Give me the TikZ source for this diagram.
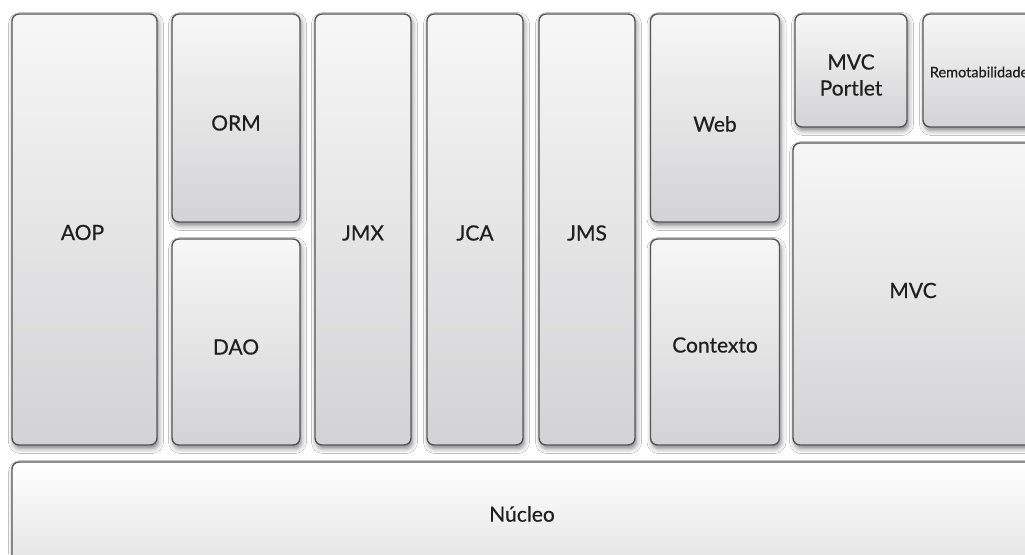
\documentclass[tikz,border=0pt]{standalone}
\usepackage{fontspec}
\setmainfont{Lato}
\newfontfamily\capfont{Lato}[FakeBold=0.5]
\usetikzlibrary{shadows.blur}
\definecolor{edge}{HTML}{555555}
\definecolor{txt}{HTML}{1F1F1F}
\definecolor{topfill}{HTML}{F7F7F7}
\definecolor{botfill}{HTML}{D3D3D5}
\definecolor{corebot}{HTML}{E4E4E4}
\tikzset{
  module/.style={draw=edge, line width=1.4pt, rounded corners=7pt,
    top color=topfill, bottom color=botfill, inner sep=0pt,
    blur shadow={shadow xshift=1.5pt, shadow yshift=-3.5pt,
      shadow blur radius=5pt, shadow opacity=50}},
  caption/.style={font=\capfont\fontsize{21}{26}\selectfont, text=txt,
    align=center, inner sep=0pt},
  small caption/.style={caption, font=\capfont\fontsize{14.5}{17}\selectfont},
}
\begin{document}
\begin{tikzpicture}[x=1pt, y=-1pt]
  \useasboundingbox (0,0) rectangle (1025,554);
  \clip (0,0) rectangle (1025,554);
  \fill[white] (0,0) rectangle (1025,554);

  % vertical modules
  \node[module, minimum width=145pt, minimum height=431pt,
        label={[caption, yshift=-3pt, xshift=-2pt]center:AOP}] (aop) at (84.5,229.5) {};
  \node[module, minimum width=128pt, minimum height=208pt,
        label={[caption, yshift=-5pt]center:ORM}] (orm) at (236,118) {};
  \node[module, minimum width=128pt, minimum height=206pt,
        label={[caption, yshift=-5pt]center:DAO}] (dao) at (236,342) {};
  \node[module, minimum width=96pt, minimum height=431pt,
        label={[caption, yshift=-3.5pt]center:JMX}] (jmx) at (363,229.5) {};
  \node[module, minimum width=96pt, minimum height=431pt,
        label={[caption, yshift=-3.5pt]center:JCA}] (jca) at (475,229.5) {};
  \node[module, minimum width=96pt, minimum height=431pt,
        label={[caption, yshift=-3.5pt]center:JMS}] (jms) at (587,229.5) {};
  \node[module, minimum width=129pt, minimum height=208pt,
        label={[caption, yshift=-6pt]center:Web}] (web) at (715,118) {};
  \node[module, minimum width=129pt, minimum height=206pt,
        label={[caption, yshift=-3pt]center:Contexto}] (ctx) at (715,342) {};

  % web tier on the right
  \node[module, minimum width=112pt, minimum height=113pt,
        label={[caption, yshift=-4.5pt]center:MVC\\Portlet}] (portlet) at (851,70.5) {};
  \node[module, minimum width=118pt, minimum height=113pt,
        label={[small caption, yshift=-1.5pt, xshift=-3pt]center:Remotabilidade}] (remote) at (982,70.5) {};
  \node[module, minimum width=240pt, minimum height=302pt,
        label={[caption, yshift=3.5pt]center:MVC}] (mvc) at (913,294) {};

  % core container
  \node[module, minimum width=1020pt, minimum height=104pt,
        top color=white, bottom color=corebot,
        label={[caption]center:Núcleo}] (core) at (522,514) {};
\end{tikzpicture}
\end{document}
